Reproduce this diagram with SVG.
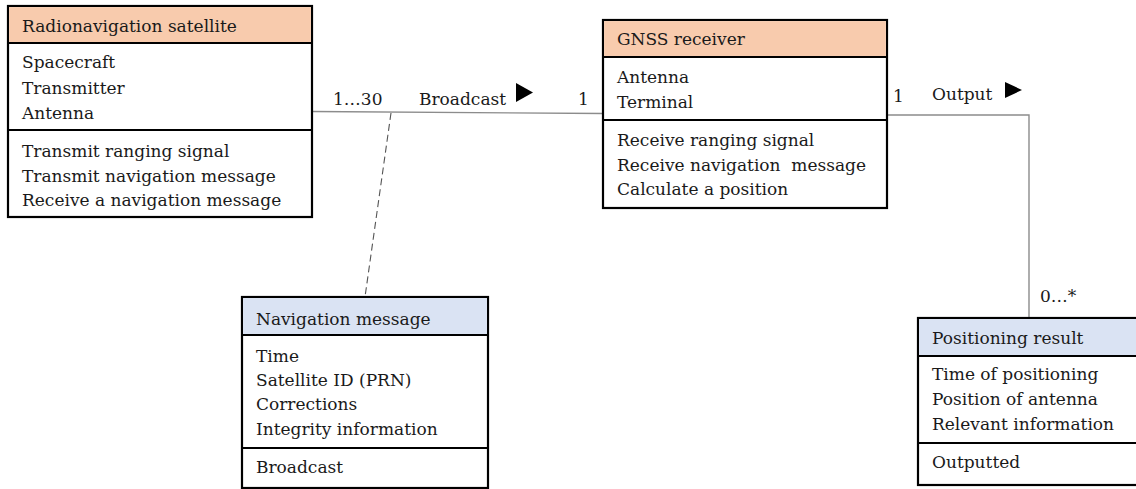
<svg xmlns="http://www.w3.org/2000/svg" width="1136" height="489" viewBox="0 0 1136 489">
  <style>
    text { font-family: "DejaVu Serif", "Liberation Serif", serif; font-size: 17px; fill: #1a1a1a; white-space: pre; }
    .box { fill: #ffffff; stroke: #000000; stroke-width: 2.2; }
    .hdr-orange { fill: #f8cbad; }
    .hdr-blue { fill: #dae3f3; }
    .div { stroke: #000000; stroke-width: 2; }
    .link { fill: none; stroke: #8c8c8c; stroke-width: 1.4; }
    .dash { fill: none; stroke: #555555; stroke-width: 1.1; stroke-dasharray: 7 4; }
    .tri { fill: #000000; }
  </style>

  <!-- associations -->
  <g id="connectors">
    <line class="link" x1="312" y1="111.5" x2="603" y2="113.5"/>
    <polyline class="link" points="887,115 1029,115 1029,318"/>
    <line class="dash" x1="391" y1="113" x2="365" y2="297"/>
    <text x="333" y="105">1…30</text>
    <text x="419" y="105">Broadcast</text>
    <polygon class="tri" points="516,83 533,92.5 516,102"/>
    <text x="578" y="105">1</text>
    <text x="893" y="102">1</text>
    <text x="932" y="100">Output</text>
    <polygon class="tri" points="1005,82 1022,90 1005,98"/>
    <text x="1040" y="302">0…*</text>
  </g>

  <!-- Radionavigation satellite class -->
  <g id="radionavigation-satellite">
    <rect class="box" x="8" y="6" width="304" height="211"/>
    <rect class="hdr-orange" x="9.1" y="7.1" width="301.8" height="35.9"/>
    <line class="div" x1="8" y1="43" x2="312" y2="43"/>
    <line class="div" x1="8" y1="130" x2="312" y2="130"/>
    <text x="22" y="32">Radionavigation satellite</text>
    <text x="22" y="68">Spacecraft</text>
    <text x="22" y="93.5">Transmitter</text>
    <text x="22" y="119">Antenna</text>
    <text x="22" y="157">Transmit ranging signal</text>
    <text x="22" y="181.5">Transmit navigation message</text>
    <text x="22" y="205.5">Receive a navigation message</text>
  </g>

  <!-- GNSS receiver class -->
  <g id="gnss-receiver">
    <rect class="box" x="603" y="20" width="284" height="188"/>
    <rect class="hdr-orange" x="604.1" y="21.1" width="281.8" height="35.9"/>
    <line class="div" x1="603" y1="57" x2="887" y2="57"/>
    <line class="div" x1="603" y1="120" x2="887" y2="120"/>
    <text x="617" y="45">GNSS receiver</text>
    <text x="617" y="83">Antenna</text>
    <text x="617" y="108">Terminal</text>
    <text x="617" y="146">Receive ranging signal</text>
    <text x="617" y="171">Receive navigation  message</text>
    <text x="617" y="195">Calculate a position</text>
  </g>

  <!-- Navigation message class -->
  <g id="navigation-message">
    <rect class="box" x="242" y="297" width="246" height="191"/>
    <rect class="hdr-blue" x="243.1" y="298.1" width="243.8" height="36.9"/>
    <line class="div" x1="242" y1="335" x2="488" y2="335"/>
    <line class="div" x1="242" y1="448" x2="488" y2="448"/>
    <text x="256" y="325">Navigation message</text>
    <text x="256" y="362">Time</text>
    <text x="256" y="386">Satellite ID (PRN)</text>
    <text x="256" y="410">Corrections</text>
    <text x="256" y="435">Integrity information</text>
    <text x="256" y="473">Broadcast</text>
  </g>

  <!-- Positioning result class -->
  <g id="positioning-result">
    <rect class="box" x="918" y="318" width="230" height="167"/>
    <rect class="hdr-blue" x="919.1" y="319.1" width="227.8" height="36.9"/>
    <line class="div" x1="918" y1="356" x2="1148" y2="356"/>
    <line class="div" x1="918" y1="443" x2="1148" y2="443"/>
    <text x="932" y="344">Positioning result</text>
    <text x="932" y="380">Time of positioning</text>
    <text x="932" y="405">Position of antenna</text>
    <text x="932" y="430">Relevant information</text>
    <text x="932" y="468">Outputted</text>
  </g>
</svg>
